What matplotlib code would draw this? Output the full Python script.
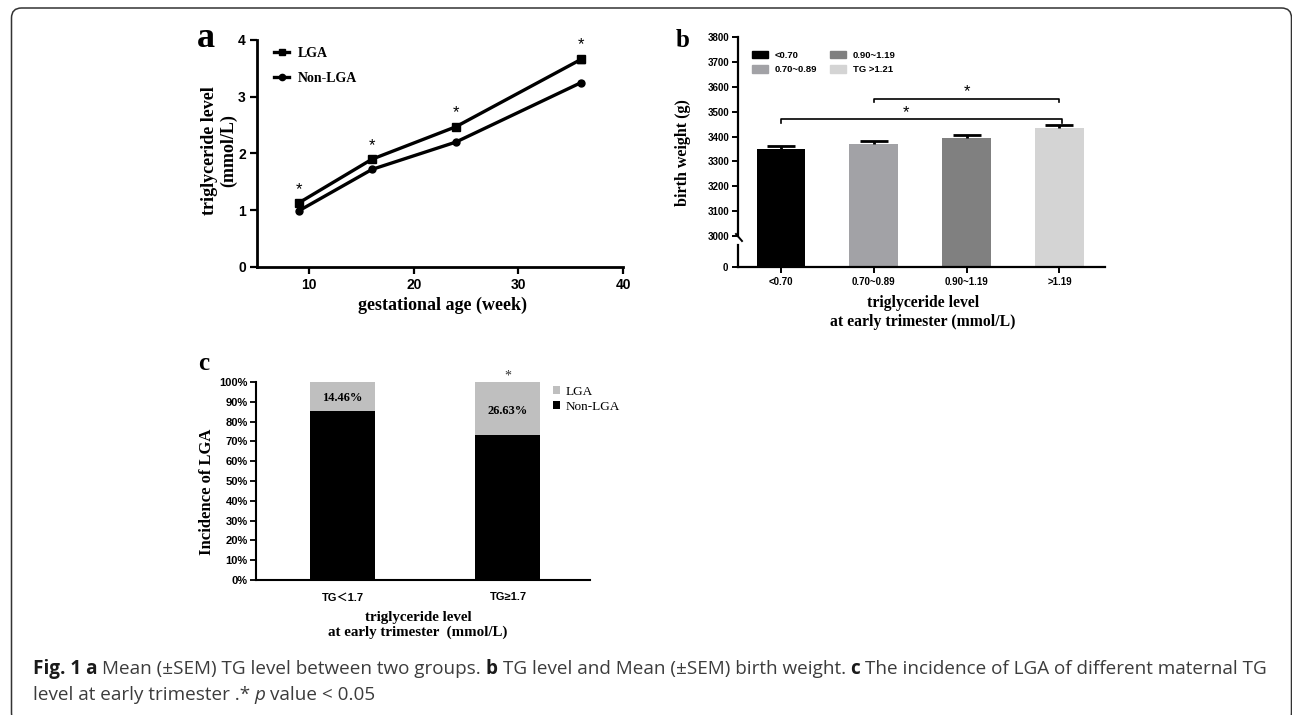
import matplotlib
matplotlib.use('Agg')
import matplotlib.pyplot as plt
from matplotlib.patches import FancyBboxPatch, Patch
from matplotlib.lines import Line2D
from matplotlib.transforms import IdentityTransform
import numpy as np

# ---------------- data ----------------
weeks = [9, 16, 24, 36]
lga_tg = [1.13, 1.90, 2.47, 3.66]
lga_sem = [0.03, 0.03, 0.05, 0.06]
nonlga_tg = [0.99, 1.72, 2.20, 3.25]
nonlga_sem = [0.01, 0.01, 0.01, 0.02]

b_categories = ['<0.70', '0.70~0.89', '0.90~1.19', '>1.19']
b_legend_labels = ['<0.70', '0.70~0.89', '0.90~1.19', 'TG >1.21']
b_weight = [3350, 3370, 3393, 3434]
b_sem = [14, 14, 12, 13]
b_colors = ['#000000', '#a2a2a6', '#808080', '#d4d4d4']

c_categories = ['TG＜1.7', 'TG≥1.7']
c_nonlga = [85.54, 73.37]
c_lga = [14.46, 26.63]

# ---------------- layout helpers ----------------
W, H = 1292, 715
fig = plt.figure(figsize=(W / 100, H / 100), dpi=100)


def rect(l, t, r, b):
    return [l / W, 1 - b / H, (r - l) / W, (b - t) / H]


def fx(x):
    return x / W


def fy(y):
    return 1 - y / H


SERIF = ['Liberation Serif', 'DejaVu Serif']
SANS = ['Liberation Sans', 'DejaVu Sans']
SANS_CJK = ['Liberation Sans', 'Noto Sans CJK SC', 'DejaVu Sans']

# ---------------- panel a ----------------
axa = fig.add_axes(rect(257, 40, 623, 267))
axa.errorbar(weeks, lga_tg, yerr=lga_sem, color='k', lw=2.4, marker='s', ms=6,
             capsize=3, elinewidth=1.5)
axa.errorbar(weeks, nonlga_tg, yerr=nonlga_sem, color='k', lw=2.4, marker='o', ms=5,
             capsize=2, elinewidth=1.5)
for w, v, e in zip(weeks, lga_tg, lga_sem):
    axa.text(w, v + e + 0.2, '*', ha='center', va='center', fontsize=12,
             fontfamily=SANS)
axa.set_xlim(5, 40)
axa.set_ylim(0, 4)
axa.set_xticks([10, 20, 30, 40])
axa.set_yticks([0, 1, 2, 3, 4])
for s in ['top', 'right']:
    axa.spines[s].set_visible(False)
for s in ['left', 'bottom']:
    axa.spines[s].set_linewidth(2)
axa.tick_params(direction='out', length=5, width=1.6, labelsize=10, pad=3)
for lab in axa.get_xticklabels() + axa.get_yticklabels():
    lab.set_fontfamily(SANS)
    lab.set_fontweight('bold')
handles_a = [Line2D([], [], color='k', lw=2.4, marker='s', ms=5),
             Line2D([], [], color='k', lw=2.4, marker='o', ms=4.5)]
leg = axa.legend(handles_a, ['LGA', 'Non-LGA'], loc='upper left',
                 bbox_to_anchor=(fx(274), fy(47)), bbox_transform=fig.transFigure,
                 frameon=False, handlelength=1.1, handletextpad=0.6,
                 labelspacing=0.85, borderpad=0, borderaxespad=0,
                 prop={'family': SERIF, 'weight': 'bold', 'size': 10})
fig.text(fx(219), fy(151), 'triglyceride level\n(mmol/L)', rotation=90,
         ha='center', va='center', multialignment='center', fontsize=13,
         fontfamily=SERIF, fontweight='bold', linespacing=1.15)
fig.text(fx(442), fy(305), 'gestational age (week)', ha='center', va='center',
         fontsize=13, fontfamily=SERIF, fontweight='bold')
fig.text(fx(205.5), fy(47), 'a', ha='center', va='baseline', fontsize=26,
         fontfamily=SERIF, fontweight='bold')

# ---------------- panel b ----------------
xb = np.arange(len(b_categories))
axb = fig.add_axes(rect(738, 37.3, 1105, 236))
axb2 = fig.add_axes(rect(738, 236, 1105, 267))
for ax in (axb, axb2):
    ax.bar(xb, b_weight, width=0.52, color=b_colors, edgecolor='none')
    ax.set_xlim(-0.46, 3.49)
    for s in ['top', 'right']:
        ax.spines[s].set_visible(False)
    ax.spines['left'].set_linewidth(1.6)
eb = axb.errorbar(xb, b_weight, yerr=[[0] * len(b_sem), b_sem], fmt='none',
                  ecolor='k', elinewidth=2, capsize=10, capthick=2)
eb[1][0].set_visible(False)
axb.set_ylim(3000, 3800)
axb.set_yticks(np.arange(3000, 3801, 100))
axb.spines['bottom'].set_visible(False)
axb.set_xticks([])
axb.tick_params(axis='y', direction='out', length=4, width=1.4, labelsize=7, pad=2)
axb2.set_ylim(0, 1)
axb2.spines['left'].set_bounds(0, (267 - 245) / (267 - 236))
axb2.set_yticks([0])
axb2.spines['bottom'].set_linewidth(1.6)
axb2.set_xticks(xb)
axb2.set_xticklabels(b_categories)
axb2.tick_params(direction='out', length=4, width=1.4, labelsize=7, pad=3)
for lab in (axb.get_yticklabels() + axb2.get_yticklabels()
            + axb2.get_xticklabels()):
    lab.set_fontfamily(SANS)
    lab.set_fontweight('bold')
# axis break mark
fig.add_artist(Line2D([fx(736), fx(742)], [fy(234), fy(241)], color='k', lw=1.4))
# significance brackets
axb.plot([0, 0, 3.03, 3.03], [3456, 3472, 3472, 3456], color='k', lw=1.2)
axb.plot([1, 1, 3, 3], [3540, 3553, 3553, 3540], color='k', lw=1.2)
axb.text(1.35, 3497, '*', ha='center', va='center', fontsize=12, fontfamily=SANS)
axb.text(2.0, 3580, '*', ha='center', va='center', fontsize=12, fontfamily=SANS)
handles_b = [Patch(color=c) for c in b_colors]
axb.legend(handles_b, b_legend_labels, ncol=2, loc='upper left',
           bbox_to_anchor=(fx(751.7), fy(51)), bbox_transform=fig.transFigure,
           frameon=False, handlelength=1.7, handleheight=0.8, handletextpad=0.7,
           columnspacing=1.4, labelspacing=0.55, borderpad=0, borderaxespad=0,
           prop={'family': SANS, 'weight': 'bold', 'size': 6.8})
fig.text(fx(683), fy(153), 'birth weight (g)', rotation=90, ha='center',
         va='center', fontsize=11.5, fontfamily=SERIF, fontweight='bold')
fig.text(fx(923), fy(312.5), 'triglyceride level\nat early trimester (mmol/L)',
         ha='center', va='center', multialignment='center', fontsize=11.3,
         fontfamily=SERIF, fontweight='bold', linespacing=1.2)
fig.text(fx(682.5), fy(47), 'b', ha='center', va='baseline', fontsize=18,
         fontfamily=SERIF, fontweight='bold')

# ---------------- panel c ----------------
xc = np.arange(len(c_categories))
axc = fig.add_axes(rect(256, 382, 590, 580))
axc.bar(xc, c_nonlga, width=0.393, color='#000000', label='Non-LGA')
axc.bar(xc, c_lga, width=0.393, bottom=c_nonlga, color='#bfbfbf', label='LGA')
for i, (n, l) in enumerate(zip(c_nonlga, c_lga)):
    axc.text(i, n + l * 0.45, f'{l:.2f}%', ha='center', va='center', fontsize=9,
             fontfamily=SERIF, fontweight='bold')
axc.text(1, 102.8, '*', ha='center', va='center', fontsize=10, fontfamily=SERIF,
         color='#333333')
axc.set_xlim(-0.524, 1.496)
axc.set_ylim(0, 100)
axc.set_yticks(np.arange(0, 101, 10))
axc.set_yticklabels([f'{v}%' for v in range(0, 101, 10)])
axc.set_xticks(xc)
axc.set_xticklabels(c_categories)
for s in ['top', 'right']:
    axc.spines[s].set_visible(False)
for s in ['left', 'bottom']:
    axc.spines[s].set_linewidth(1.5)
axc.tick_params(axis='y', direction='out', length=4, width=1.3, labelsize=8, pad=2)
axc.tick_params(axis='x', length=0, labelsize=8, pad=9)
for lab in axc.get_yticklabels():
    lab.set_fontfamily(SANS)
    lab.set_fontweight('bold')
for lab in axc.get_xticklabels():
    lab.set_fontfamily(SANS_CJK)
    lab.set_fontweight('bold')
hc, lc = axc.get_legend_handles_labels()
axc.legend(hc[::-1], lc[::-1], loc='upper left',
           bbox_to_anchor=(fx(553), fy(386)), bbox_transform=fig.transFigure,
           frameon=False, handlelength=0.55, handleheight=0.55, handletextpad=0.4,
           labelspacing=0.2, borderpad=0, borderaxespad=0,
           prop={'family': SERIF, 'size': 9.5})
fig.text(fx(207), fy(491.7), 'Incidence of LGA', rotation=90, ha='center',
         va='center', fontsize=12, fontfamily=SERIF, fontweight='bold')
fig.text(fx(418), fy(625), 'triglyceride level\nat early trimester  (mmol/L)',
         ha='center', va='center', multialignment='center', fontsize=10.8,
         fontfamily=SERIF, fontweight='bold', linespacing=1.2)
fig.text(fx(203.5), fy(369.5), 'c', ha='center', va='baseline', fontsize=18,
         fontfamily=SERIF, fontweight='bold')

# ---------------- caption ----------------
CAP = ['Open Sans', 'DejaVu Sans']
line1 = [('Fig. 1 a', 'bold', 'normal'), ('Mean (±SEM) TG level between two groups.', 'normal', 'normal'),
         ('b', 'bold', 'normal'), ('TG level and Mean (±SEM) birth weight.', 'normal', 'normal'),
         ('c', 'bold', 'normal'), ('The incidence of LGA of different maternal TG', 'normal', 'normal')]
line2 = [('level at early trimester .*', 'normal', 'normal'), ('p', 'normal', 'italic'),
         ('value < 0.05', 'normal', 'normal')]

renderer = fig.canvas.get_renderer()


def draw_line(pieces, x0, ybase, size):
    arts = []
    x = x0
    probe = fig.text(0, 0, 'a a', fontsize=size, fontfamily=CAP)
    w1 = probe.get_window_extent(renderer).width
    probe.set_text('aa')
    w2 = probe.get_window_extent(renderer).width
    probe.remove()
    space = w1 - w2
    for k, (txt, wt, st) in enumerate(pieces):
        if k > 0:
            x += space
        t = fig.text(fx(x), fy(ybase), txt, fontsize=size, fontfamily=CAP,
                     fontweight=wt, fontstyle=st, va='baseline', ha='left',
                     color='#1a1a1a' if wt == 'bold' else '#3c3c3c')
        arts.append(t)
        x += t.get_window_extent(renderer).width
    return arts, x


size0 = 12
arts, xend = draw_line(line1, 32.7, 674, size0)
for a in arts:
    a.remove()
size1 = size0 * (1265 - 32.7) / (xend - 32.7)
draw_line(line1, 32.7, 674, size1)
draw_line(line2, 32.7, 700, size1)

# ---------------- border ----------------
border = FancyBboxPatch((11.5, -8), 1291.5 - 11.5, (H - 8) + 8,
                        boxstyle='round,pad=0,rounding_size=10',
                        transform=IdentityTransform(), fill=False,
                        edgecolor='#333333', lw=1.1)
fig.add_artist(border)

fig.savefig('out.png', dpi=100)
